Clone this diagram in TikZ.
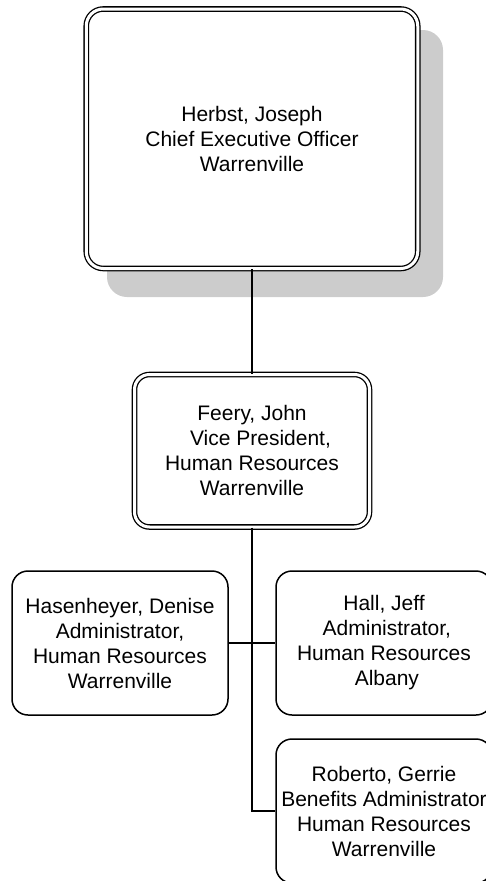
\documentclass[tikz,border=0pt]{standalone}
\usepackage{fontspec}
\setmainfont{Liberation Sans}
\begin{document}
\begin{tikzpicture}[x=1pt,y=-1pt,
  txt/.style={font=\fontsize{21}{25}\selectfont, align=center, inner sep=0pt},
  dbox/.style={txt, draw=black, line width=1.3pt, double=white, double distance=3pt, rounded corners=17pt},
  sbox/.style={txt, draw=black, line width=1.5pt, rounded corners=16pt, fill=white},
  conn/.style={draw=black, line width=1.5pt},
  shadowbox/.style={fill=black!20, rounded corners=20pt}]
\useasboundingbox (0,0) rectangle (486,881);
\clip (0,0) rectangle (486,881);
\fill[shadowbox] (107,30) rectangle (443,297);
\node[dbox, fill=white, minimum width=331.5pt, minimum height=259.5pt] (ceo) at (252,138.75)
  {Herbst, Joseph\\Chief Executive Officer\\Warrenville};
\node[dbox, fill=white, minimum width=235pt, minimum height=152.5pt, rounded corners=15pt] (vp) at (252,450.75)
  {Feery, John\\\hspace*{17pt}Vice President,\\Human Resources\\Warrenville};
\node[sbox, minimum width=216pt, minimum height=144pt] (has) at (120,643)
  {Hasenheyer, Denise\\Administrator,\\Human Resources\\Warrenville};
\node[sbox, minimum width=216pt, minimum height=144pt] (hall) at (384,643)
  {Hall, Jeff\\\hspace*{5.8pt}Administrator,\\Human Resources\\\hspace*{5.8pt}Albany};
\node[sbox, minimum width=216pt, minimum height=144pt] (rob) at (384,811)
  {Roberto, Gerrie\\Benefits Administrator\\Human Resources\\Warrenville};
\coordinate (j2) at (252,811);
\draw[conn] (ceo.south) -- (vp.north);
\draw[conn] (vp.south) -- (j2) -- (rob.west);
\draw[conn] (has.east) -- (hall.west);
\end{tikzpicture}
\end{document}
